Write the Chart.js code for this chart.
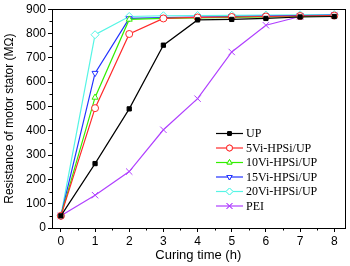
<!DOCTYPE html>
<html><head><meta charset="utf-8">
<script src="https://cdn.jsdelivr.net/npm/chart.js@4/dist/chart.umd.min.js"></script>
<style>html,body{margin:0;padding:0;background:#fff}#w{width:350px;height:266px}</style>
</head><body><div id="w"><canvas id="c"></canvas></div>
<script>
const hours = [0, 1, 2, 3, 4, 5, 6, 7, 8];
const UP = [50, 265, 490, 752, 856, 858, 862, 868, 870];
const vi5 = [50, 493, 798, 862, 866, 868, 870, 872, 874];
const vi10 = [50, 537, 858, 862, 864, 866, 868, 870, 872];
const vi15 = [50, 637, 862, 865, 868, 870, 872, 874, 876];
const vi20 = [50, 795, 870, 873, 874, 875, 876, 877, 878];
const PEI = [50, 135, 232, 404, 532, 724, 834, 870, 876];
const xTicks = [0, 1, 2, 3, 4, 5, 6, 7, 8];
const yTicks = [0, 100, 200, 300, 400, 500, 600, 700, 800, 900];
const labels = ['UP', '5Vi-HPSi/UP', '10Vi-HPSi/UP', '15Vi-HPSi/UP', '20Vi-HPSi/UP', 'PEI'];

const series = [UP, vi5, vi10, vi15, vi20, PEI];
const colors = ['#000000', '#ff2a2a', '#33ee00', '#2233ff', '#55f5e5', '#b040ff'];
const styles = ['rect', 'circle', 'triangle', 'triangle', 'rectRot', 'crossRot'];
const rots = [0, 0, 0, 180, 0, 0];
const radii = [3, 3.5, 3.5, 3.5, 4, 4.5];
const fills = ['#000000', '#ffffff', '#ffffff', '#ffffff', '#ffffff', 'rgba(0,0,0,0)'];

const datasets = series.map((s, i) => ({
  label: labels[i],
  data: s.map((v, j) => ({x: hours[j], y: v})),
  borderColor: colors[i],
  backgroundColor: fills[i],
  pointBorderColor: colors[i],
  pointBackgroundColor: fills[i],
  pointStyle: styles[i],
  pointRotation: rots[i],
  pointRadius: radii[i],
  pointBorderWidth: 1,
  borderWidth: 1.2,
  tension: 0
}));

const framePlugin = {
  id: 'frame',
  afterDraw(chart) {
    const ctx = chart.ctx, a = chart.chartArea;
    const xs = chart.scales.x, ys = chart.scales.y;
    ctx.save();
    ctx.strokeStyle = '#000';
    ctx.lineWidth = 1;
    ctx.strokeRect(Math.round(a.left) + 0.5, Math.round(a.top) + 0.5, Math.round(a.right - a.left), Math.round(a.bottom - a.top));
    ctx.beginPath();
    for (let i = 0; i < xTicks.length - 1; i++) {
      const px = Math.round(xs.getPixelForValue((xTicks[i] + xTicks[i + 1]) / 2)) + 0.5;
      ctx.moveTo(px, a.bottom); ctx.lineTo(px, a.bottom + 2.5);
    }
    for (let i = 0; i < yTicks.length - 1; i++) {
      const py = Math.round(ys.getPixelForValue((yTicks[i] + yTicks[i + 1]) / 2)) + 0.5;
      ctx.moveTo(a.left, py); ctx.lineTo(a.left - 2.5, py);
    }
    ctx.stroke();
    const lx0 = 216, lx1 = 243, tx = 246, y0 = 133.5, dy = 14.5;
    ctx.font = '12px "Liberation Serif", "Times New Roman", serif';
    ctx.textBaseline = 'middle';
    chart.data.datasets.forEach((d, i) => {
      const y = y0 + i * dy;
      ctx.strokeStyle = d.borderColor;
      ctx.lineWidth = 1.2;
      ctx.beginPath(); ctx.moveTo(lx0, y); ctx.lineTo(lx1, y); ctx.stroke();
      ctx.fillStyle = d.pointBackgroundColor;
      ctx.lineWidth = 1;
      Chart.helpers.drawPoint(ctx, {pointStyle: d.pointStyle, rotation: d.pointRotation, radius: d.pointRadius - 0.5, borderWidth: 1}, (lx0 + lx1) / 2, y);
      if (d.pointStyle !== 'crossRot') ctx.fill();
      ctx.stroke();
      ctx.fillStyle = '#000';
      ctx.fillText(d.label, tx, y + 0.5);
    });
    ctx.restore();
  }
};

new Chart(document.getElementById('c'), {
  type: 'line',
  data: {datasets},
  options: {
    responsive: true,
    maintainAspectRatio: false,
    animation: false,
    layout: {padding: {top: 6, right: 2, left: 0, bottom: 0}},
    plugins: {legend: {display: false}, tooltip: {enabled: false}},
    scales: {
      x: {
        type: 'linear', min: -0.26, max: 8.3,
        afterBuildTicks: s => { s.ticks = xTicks.map(v => ({value: v})); },
        afterFit: s => { s.height = 38; },
        grid: {display: true, drawOnChartArea: false, tickLength: 4, color: '#000', tickColor: '#000'},
        border: {display: true, color: '#000'},
        ticks: {color: '#000', font: {family: 'Liberation Sans, Arial', size: 12}, padding: 2, maxRotation: 0},
        title: {display: true, text: 'Curing time (h)', color: '#000', font: {family: 'Liberation Sans, Arial', size: 13}, padding: {top: 0, bottom: 3}}
      },
      y: {
        type: 'linear', min: 0, max: 900,
        afterBuildTicks: s => { s.ticks = yTicks.map(v => ({value: v})); },
        afterFit: s => { s.width = 52; },
        grid: {display: true, drawOnChartArea: false, tickLength: 4, color: '#000', tickColor: '#000'},
        border: {display: true, color: '#000'},
        ticks: {color: '#000', font: {family: 'Liberation Sans, Arial', size: 12}, padding: 2},
        title: {display: true, text: 'Resistance of motor stator (MΩ)', color: '#000', font: {family: 'Liberation Sans, Arial', size: 12}, padding: {top: 2, bottom: 0}}
      }
    }
  },
  plugins: [framePlugin]
});
</script></body></html>
